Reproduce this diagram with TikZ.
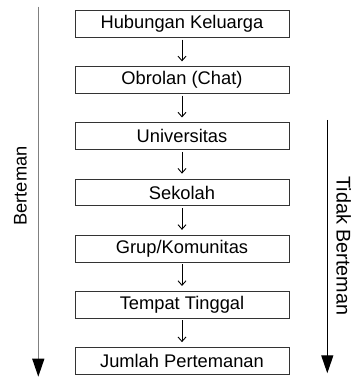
\documentclass[tikz,border=0pt]{standalone}
\usepackage{fontspec}
\setmainfont{Liberation Sans}
\usetikzlibrary{arrows.meta}
\begin{document}
\begin{tikzpicture}[x=1pt,y=1pt,
  stepbox/.style={draw=black!80, line width=1pt, minimum width=214pt, minimum height=26.7pt, inner sep=0pt,
    font=\fontsize{18.3}{22}\selectfont, text=black},
  smallarr/.style={draw=black, line width=0.9pt, -{Straight Barb[length=4.5pt,width=8pt]}},
  bigarr/.style={line width=1.3pt, -{Triangle[length=18pt,width=12pt,black]}},
  sidelabel/.style={font=\fontsize{18.3}{22}\selectfont, anchor=base}
]
\useasboundingbox (0,0) rectangle (352,377);
\node[stepbox] (b1) at (182,353) {Hubungan Keluarga};
\node[stepbox] (b2) at (182,296.8) {Obrolan (Chat)};
\node[stepbox] (b3) at (182,240.7) {Universitas};
\node[stepbox] (b4) at (182,184.5) {Sekolah};
\node[stepbox] (b5) at (182,128.3) {Grup/Komunitas};
\node[stepbox] (b6) at (182,72.2) {Tempat Tinggal};
\node[stepbox] (b7) at (182,16) {Jumlah Pertemanan};
\foreach \a/\b in {b1/b2,b2/b3,b3/b4,b4/b5,b5/b6,b6/b7}
  \draw[smallarr] ([yshift=-1.7pt]\a.south) -- ([yshift=5pt]\b.north);
\coordinate (ls) at (38.3,370.3);
\coordinate (le) at (38.3,0.3);
\draw[bigarr, draw=black!50] (ls) -- (le);
\coordinate (rs) at (327.3,257);
\coordinate (re) at (327.3,3.7);
\draw[bigarr, draw=black] (rs) -- (re);
\node[sidelabel, rotate=90] (lb) at (26.7,191) {Berteman};
\node[sidelabel, rotate=-90, font=\fontsize{19.8}{23}\selectfont] (rb) at (336.5,131) {Tidak Berteman};
\end{tikzpicture}
\end{document}
